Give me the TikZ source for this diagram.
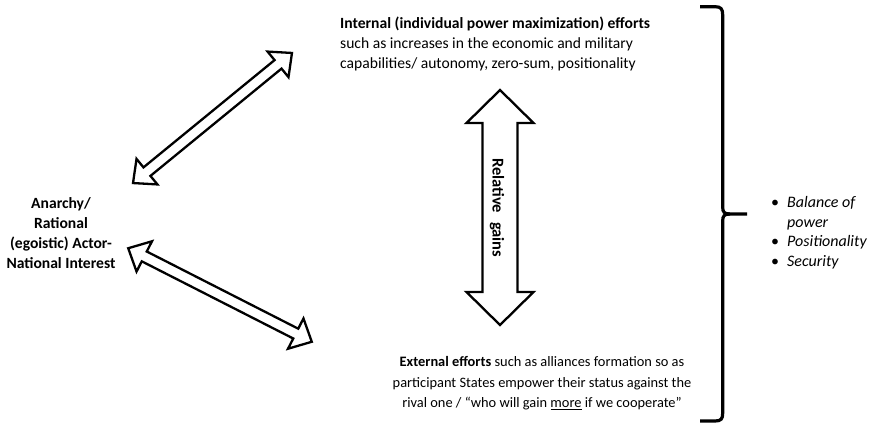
\documentclass[tikz,border=0pt]{standalone}
\usepackage{fontspec}
\setmainfont{Carlito}
\begin{document}
\begin{tikzpicture}[x=1pt,y=-1pt]
\tikzset{
  txt/.style={inner sep=0pt, text=black},
  arrowline/.style={draw=black, line width=2.3pt, line join=miter, fill=white},
  bracketline/.style={draw=black, line width=3.2pt, line cap=butt},
  pics/blockarrow/.style n args={4}{code={
    % #1 half length, #2 head length, #3 head half width, #4 shaft half width
    \draw[arrowline] (#1,0) -- ({#1-#2},#3) -- ({#1-#2},#4) -- ({-#1+#2},#4)
      -- ({-#1+#2},#3) -- (-#1,0) -- ({-#1+#2},-#3) -- ({-#1+#2},-#4)
      -- ({#1-#2},-#4) -- ({#1-#2},-#3) -- cycle;
  }}
}
\useasboundingbox[fill=white] (0,0) rectangle (869,426);

% block arrows
\pic[rotate=39.3] (upperarrow) at (212.5,118) {blockarrow={102.7}{18}{16.5}{5.5}};
\pic[rotate=-27] (lowerarrow) at (220,295) {blockarrow={103}{18}{17}{5.5}};
\pic[rotate=90] (gainsarrow) at (500,207.5) {blockarrow={117.5}{33}{33.5}{17.5}};

% texts (anchor base = baseline of the last line)
\node[txt, anchor=base west, align=left, font=\fontsize{15.6}{20}\selectfont] (internal) at (340,68.3)
  {\textbf{Internal (individual power maximization) efforts}\\
   such as increases in the economic and military\\
   capabilities/ autonomy, zero-sum, positionality};

\node[txt, anchor=base, align=center, font=\fontsize{14.4}{20.5}\selectfont] (external) at (542,407.5)
  {\textbf{External efforts} such as alliances formation so as\\
   participant States empower their status against the\\
   rival one / “who will gain \underline{more} if we cooperate”};

\node[txt, anchor=base, align=center, font=\fontsize{15.6}{19.7}\selectfont\bfseries] (actor) at (61,268)
  {Anarchy/\\Rational\\(egoistic) Actor-\\National Interest};

\node[txt, rotate=-90, font=\fontsize{16.5}{20}\selectfont\bfseries] (gains) at (497,207.7)
  {Relative\hspace{0.55em}gains};

\node[txt, anchor=base west, align=left, font=\fontsize{16}{19.6}\selectfont] (results) at (771,266.5)
  {\makebox[16pt][l]{•}\textit{Balance of}\\
   \makebox[16pt][l]{}\textit{power}\\
   \makebox[16pt][l]{•}\textit{Positionality}\\
   \makebox[16pt][l]{•}\textit{Security}};

% right curly bracket
\draw[bracketline] (700,6.7) -- (715,6.7) .. controls (721,6.7) and (722.7,9) .. (722.7,15)
  -- (722.7,207) .. controls (722.7,212) and (724,214) .. (730,214) -- (747,214);
\draw[bracketline] (730,214) .. controls (724,214) and (722.7,216) .. (722.7,221)
  -- (722.7,413) .. controls (722.7,419) and (721,421) .. (715,421) -- (700,421);
\end{tikzpicture}
\end{document}
